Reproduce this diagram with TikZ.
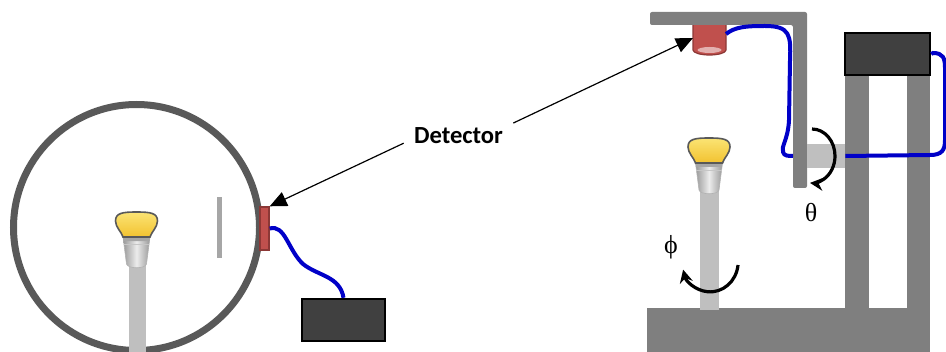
\documentclass[tikz,border=0pt]{standalone}
\usepackage{fontspec}
\setmainfont{Carlito}
\newfontfamily\greekfont{Liberation Serif}
\usetikzlibrary{arrows.meta}

\definecolor{frame}{HTML}{7F7F7F}
\definecolor{ring}{HTML}{595959}
\definecolor{rod}{HTML}{BFBFBF}
\definecolor{shield}{HTML}{A6A6A6}
\definecolor{detred}{HTML}{C0504D}
\definecolor{detedge}{HTML}{8C3836}
\definecolor{cableblue}{HTML}{0000C8}
\definecolor{unitgray}{HTML}{404040}
\definecolor{bulbhi}{HTML}{FBE474}
\definecolor{bulblo}{HTML}{F2C230}

\tikzset{
  unit/.style={draw=black, line width=1.2pt, fill=unitgray, inner sep=0pt},
  sensor/.style={draw=detedge, line width=0.7pt, fill=detred, inner sep=0pt},
  cable/.style={draw=cableblue, line width=2pt},
  pointer/.style={line width=0.6pt, -{Triangle[length=8.5pt,width=7.5pt]}},
  turn/.style={line width=1.6pt, -{Stealth[length=6.5pt,width=6.5pt]}},
  greek/.style={font=\greekfont\fontsize{13}{13}\selectfont},
  lamp/.pic={
    \path[left color=gray!80, right color=gray!80, middle color=gray!15, draw=gray!60, line width=0.3pt]
      (-13.5,-25) -- (-10,-52) .. controls (-9,-57) and (9,-57) .. (10,-52) -- (13.5,-25) -- cycle;
    \fill[gray!70] (-13.5,-25) -- (-13,-29) -- (13,-29) -- (13.5,-25) -- cycle;
    \draw[gray!45, line width=0.4pt] (-12.6,-32) -- (12.6,-32);
    \path[top color=bulbhi, bottom color=bulblo, draw=gray!70!black, line width=0.8pt]
      (-13.5,-25) .. controls (-15,-20) and (-21,-15) .. (-21,-9)
      .. controls (-21,-1) and (-14,0) .. (0,0)
      .. controls (14,0) and (21,-1) .. (21,-9)
      .. controls (21,-15) and (15,-20) .. (13.5,-25) -- cycle;
  }
}

\begin{document}
\begin{tikzpicture}[x=0.5pt,y=0.5pt]
	\useasboundingbox (0,0) rectangle (946,-352);
	\clip (0,0) rectangle (946,-352);
	% sphere with lamp and detector
	\draw [ring, line width=3.5pt] (136.5,-227.5) circle (123);
	\fill [shield] (217,-197) rectangle (222,-258);
	\fill [rod] (129,-262) rectangle (146,-360);
	\pic at (136.5,-212) {lamp};
	\node [sensor, minimum width=4.5pt, minimum height=21.5pt] (ldet) at (264.5,-228.5) {};
	\node [unit, minimum width=41.5pt, minimum height=21pt] (lbox) at (343.5,-320) {};
	\draw [cable] (ldet.east) .. controls (285,-224) and (288,-250) .. (303,-264)
		.. controls (318,-276) and (340,-276) .. (lbox.north);
	% goniometer
	\fill [frame] (647,-308) rectangle (930,-360);
	\fill [frame] (845,-70) rectangle (869,-310);
	\fill [frame] (907,-70) rectangle (930,-310);
	\fill [rod] (700,-190) rectangle (719,-310);
	\pic at (709,-138) {lamp};
	\filldraw [fill=detred, draw=detedge, line width=0.6pt] (693,-22) -- (693,-50)
		arc [start angle=180, end angle=360, x radius=16.5, y radius=5] -- (726,-22) -- cycle;
	\fill [detred!45!white] (709.5,-50) ellipse [x radius=12, y radius=3];
	\fill [frame, rounded corners=1] (650,-12) -- (807,-12) -- (807,-188) -- (793,-188) -- (793,-25) -- (650,-25) -- cycle;
	\coordinate (rdet) at (693,-38);
	\coordinate (rplug) at (726,-34);
	\coordinate (armin) at (793,-156);
	\node [fill=rod, minimum width=19pt, minimum height=12pt, inner sep=0pt] (axle) at (826,-156) {};
	\node [unit, minimum width=42.5pt, minimum height=21pt] (rbox) at (887.5,-54) {};
	\draw [cable] (rplug) .. controls (735,-27) and (745,-26) .. (765,-26)
		.. controls (790,-26) and (791,-35) .. (790,-60) -- (789,-120)
		.. controls (788,-140) and (781,-146) .. (783,-152)
		.. controls (784,-156) and (788,-156) .. (armin);
	\draw [cable] (rbox.east) -- (933,-53) .. controls (943,-53) and (945,-58) .. (945,-68)
		-- (945,-140) .. controls (945,-150) and (942,-155) .. (930,-155) -- (axle.east);
	\draw [turn] (812,-129) arc [start angle=90, end angle=-95, x radius=23, y radius=27];
	\draw [turn] (738,-265) arc [start angle=-6, end angle=-165, x radius=28, y radius=30];
	\node [greek] (theta) at (811,-213) {θ};
	\node [greek] (phi) at (671,-247) {ϕ};
	% label
	\node [font=\bfseries\fontsize{12.3}{14}\selectfont, inner xsep=5pt, inner ysep=2pt] (lbl) at (458.5,-135.5) {Detector};
	\draw [pointer] (lbl.188) -- (ldet.north east);
	\draw [pointer] (lbl.north east) -- (rdet);
\end{tikzpicture}
\end{document}
